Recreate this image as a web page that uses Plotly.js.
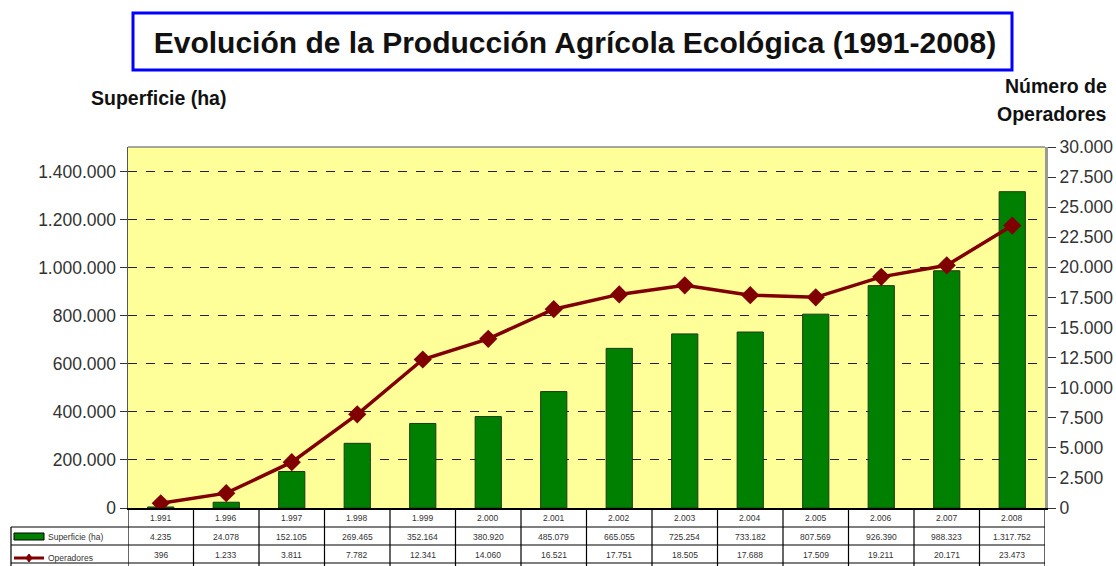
<!DOCTYPE html>
<html><head><meta charset="utf-8">
<script src="https://cdn.plot.ly/plotly-3.0.1.min.js"></script>
<style>html,body{margin:0;padding:0;background:#fff}#c{width:1116px;height:566px}</style>
</head><body><div id="c"></div>
<script>
const years = ["1.991","1.996","1.997","1.998","1.999","2.000","2.001","2.002","2.003","2.004","2.005","2.006","2.007","2.008"];
const superficie = [4235,24078,152105,269465,352164,380920,485079,665055,725254,733182,807569,926390,988323,1317752];
const operadores = [396,1233,3811,7782,12341,14060,16521,17751,18505,17688,17509,19211,20171,23473];
const leftTicks = [0,200000,400000,600000,800000,1000000,1200000,1400000];
const rightTicks = [0,2500,5000,7500,10000,12500,15000,17500,20000,22500,25000,27500,30000];

function fmt(n){return n.toString().replace(/\B(?=(\d{3})+(?!\d))/g,".");}

const L=128, R=1045, T=147, B=508;
const W=R-L, H=B-T;
const py = p => (B-p)/H;      // pixel y -> paper y
const px = p => (p-L)/W;      // pixel x -> paper x
const idx = years.map((_,i)=>i);
const FF = 'Liberation Sans, Arial';

const traces = [
  {type:'bar', x:idx, y:superficie, yaxis:'y', width:0.4,
   marker:{color:'#008000', line:{color:'#1a3a1a', width:1}}, name:'Superficie (ha)'},
  {type:'scatter', mode:'lines+markers', x:idx, y:operadores, yaxis:'y2',
   line:{color:'#800000', width:3.5}, marker:{symbol:'diamond', size:14, color:'#800000'}, name:'Operadores'}
];

const shapes = [
  {type:'rect', xref:'paper', yref:'paper', x0:px(133), x1:px(1012), y0:py(13), y1:py(70), line:{color:'#0000ff', width:3}, layer:'above'}
];
const annotations = [
  {xref:'paper', yref:'paper', x:px(89), y:py(98), xanchor:'left', yanchor:'middle', text:'<b>Superficie (ha)</b>', showarrow:false, font:{family:FF, size:19.5, color:'#111'}},
  {xref:'paper', yref:'paper', x:px(1109), y:py(86), xanchor:'right', yanchor:'middle', text:'<b>Número de</b>', showarrow:false, font:{family:FF, size:19.5, color:'#111'}},
  {xref:'paper', yref:'paper', x:px(1109), y:py(114), xanchor:'right', yanchor:'middle', text:'<b>Operadores</b>', showarrow:false, font:{family:FF, size:19.5, color:'#111'}}
];

for (let i=0;i<=years.length;i++){
  shapes.push({type:'line', xref:'x', yref:'paper', x0:i-0.5, x1:i-0.5, y0:py(B), y1:py(566), line:{color:'#000', width:1.2}});
}
shapes.push({type:'line', xref:'paper', yref:'paper', x0:px(11), x1:px(11), y0:py(527), y1:py(566), line:{color:'#000', width:1.2}});
[527,545,563].forEach(r=>shapes.push({type:'line', xref:'paper', yref:'paper', x0:px(11), x1:1, y0:py(r), y1:py(r), line:{color:'#000', width:1.2}}));
shapes.push({type:'rect', xref:'paper', yref:'paper', x0:px(14), x1:px(44), y0:py(540), y1:py(533), fillcolor:'#008000', line:{color:'#000', width:1}});
shapes.push({type:'line', xref:'paper', yref:'paper', x0:px(14), x1:px(44), y0:py(558), y1:py(558), line:{color:'#800000', width:3}});
shapes.push({type:'path', xref:'paper', yref:'paper',
  path:`M ${px(29)} ${py(554)} L ${px(32)} ${py(558)} L ${px(29)} ${py(562)} L ${px(26)} ${py(558)} Z`, fillcolor:'#800000', line:{color:'#800000', width:1}});
shapes.push({type:'line', xref:'paper', yref:'paper', x0:0, x1:1, y0:1, y1:1, line:{color:'#888', width:1.5}});

const tf = {family:FF, size:8.5, color:'#333'};
annotations.push({xref:'paper', yref:'paper', x:px(46), y:py(536.5), xanchor:'left', yanchor:'middle', text:'Superficie (ha)', showarrow:false, font:tf});
annotations.push({xref:'paper', yref:'paper', x:px(46), y:py(558), xanchor:'left', yanchor:'middle', text:'Operadores', showarrow:false, font:tf});
years.forEach((y,i)=>{
  annotations.push({xref:'x', yref:'paper', x:i, y:py(518), xanchor:'center', yanchor:'middle', text:y, showarrow:false, font:tf});
  annotations.push({xref:'x', yref:'paper', x:i, y:py(536.5), xanchor:'center', yanchor:'middle', text:fmt(superficie[i]), showarrow:false, font:tf});
  annotations.push({xref:'x', yref:'paper', x:i, y:py(555), xanchor:'center', yanchor:'middle', text:fmt(operadores[i]), showarrow:false, font:tf});
});

const layout = {
  width:1116, height:566,
  margin:{l:L, r:1116-R, t:T, b:566-B, pad:0},
  paper_bgcolor:'#ffffff', plot_bgcolor:'#ffff99',
  showlegend:false,
  title:{text:'<b>Evolución de la Producción Agrícola Ecológica (1991-2008)</b>', x:575/1116, xanchor:'center', xref:'container', y:1-42/566, yanchor:'middle', yref:'container',
    font:{family:FF, size:30, color:'#111'}},
  font:{family:FF, color:'#333'},
  xaxis:{range:[-0.5, years.length-0.5], showticklabels:false, ticks:'', showgrid:false, zeroline:false,
    showline:true, linecolor:'#000', linewidth:1.5, mirror:false, fixedrange:true},
  yaxis:{range:[0, 1504000], tickvals:leftTicks, ticktext:leftTicks.map(fmt), ticks:'outside', ticklen:7, tickcolor:'#333',
    showgrid:true, gridcolor:'#222', griddash:'dash', gridwidth:1, zeroline:false,
    showline:true, linecolor:'#555', linewidth:1.5, tickfont:{size:17.5, color:'#333', family:FF}},
  yaxis2:{range:[0, 30000], overlaying:'y', side:'right', tickvals:rightTicks, ticktext:rightTicks.map(fmt),
    ticks:'outside', ticklen:8, tickcolor:'#333', showgrid:false, zeroline:false,
    showline:true, linecolor:'#999', linewidth:3, tickfont:{size:17.5, color:'#333', family:FF}},
  shapes:shapes, annotations:annotations
};

Plotly.newPlot('c', traces, layout, {displayModeBar:false, staticPlot:true});
</script></body></html>
